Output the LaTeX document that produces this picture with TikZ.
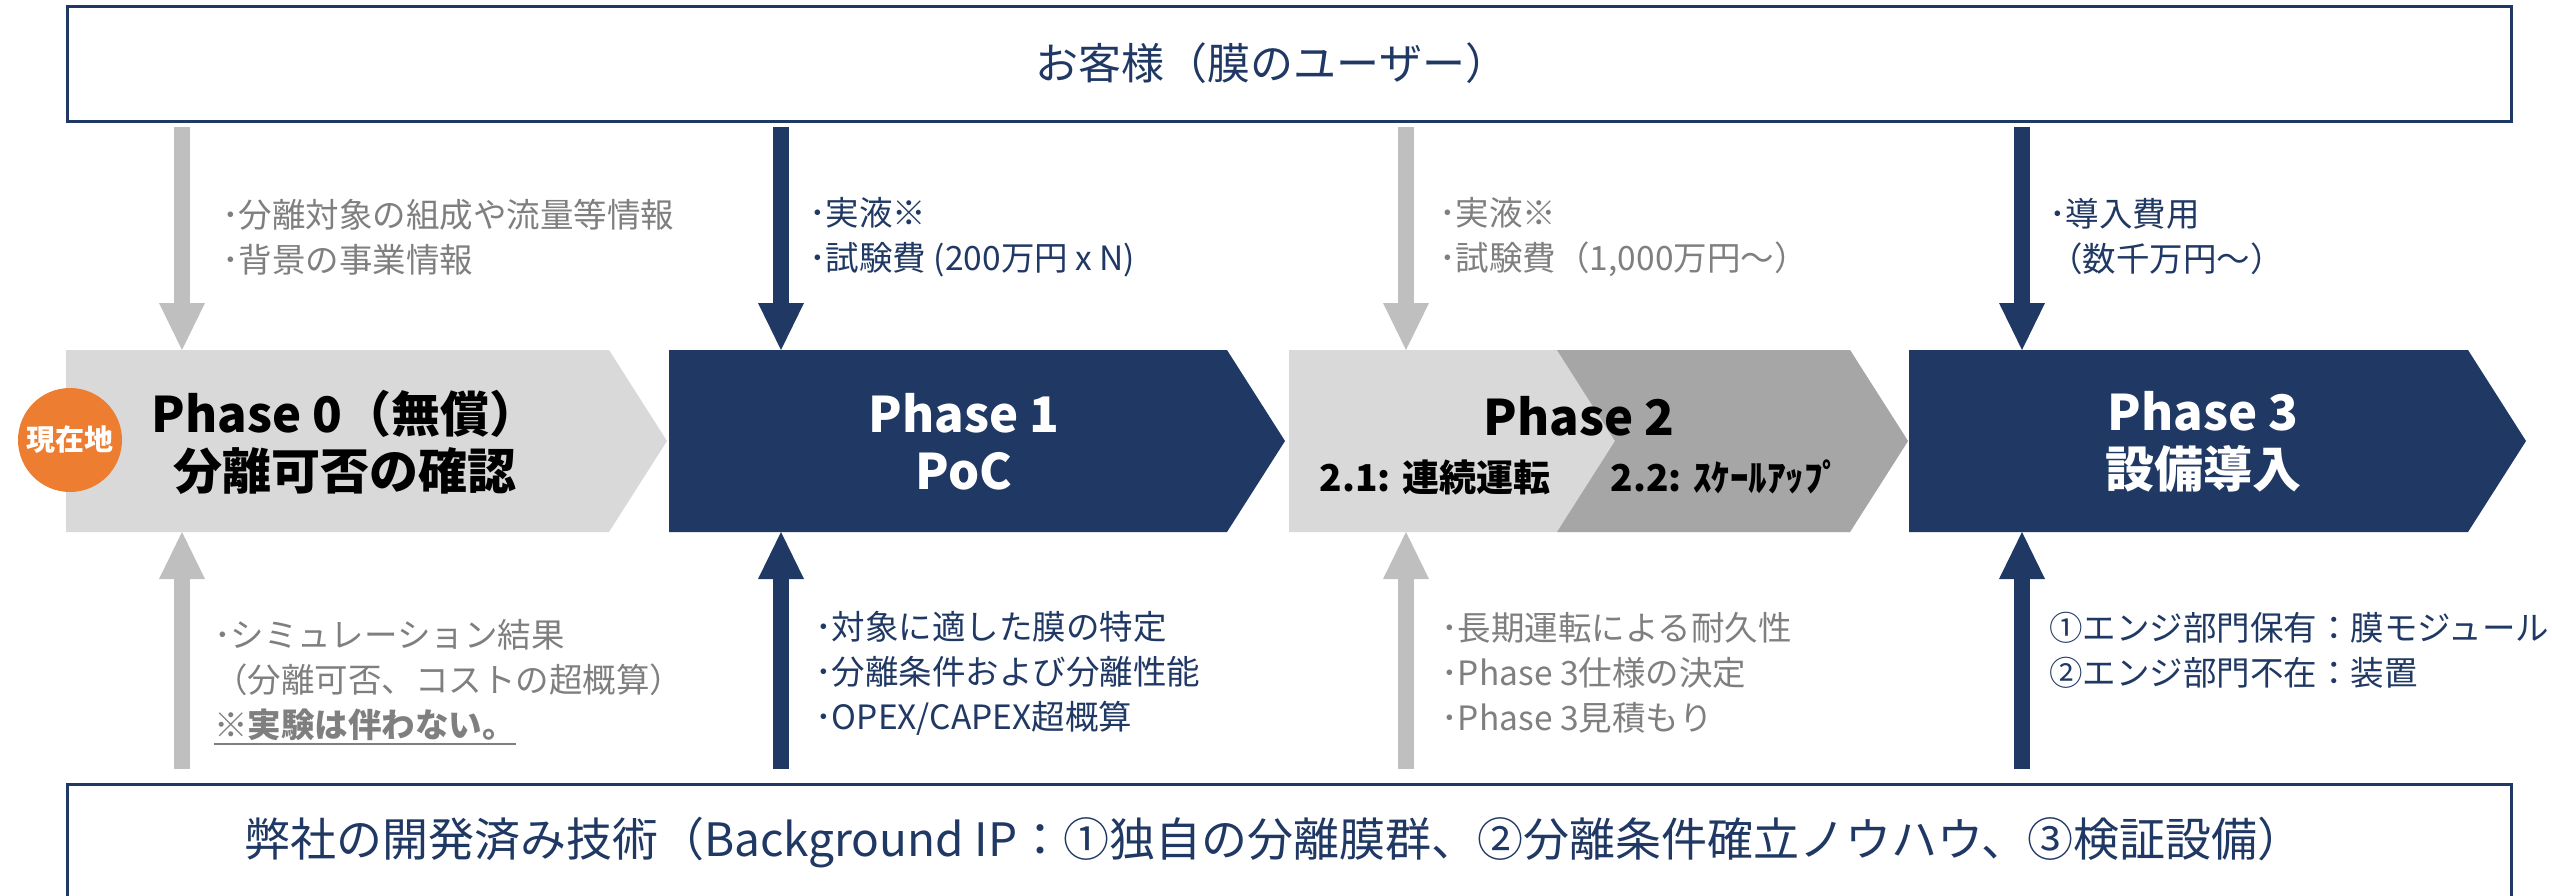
\documentclass[tikz,border=0pt]{standalone}
\usepackage{fontspec}
\setmainfont{Noto Sans CJK JP}
\usetikzlibrary{arrows.meta}
\definecolor{navy}{RGB}{32,56,100}
\definecolor{lightgr}{RGB}{217,217,217}
\definecolor{midgr}{RGB}{166,166,166}
\definecolor{arrowgr}{RGB}{191,191,191}
\definecolor{textgr}{RGB}{127,127,127}
\definecolor{here}{RGB}{237,125,49}
\tikzset{frame/.style={draw=navy,line width=3pt,fill=white,inner sep=0pt},
  flow/.style={line width=16pt,-{Triangle[width=46pt,length=47pt,line width=0pt]}},
  note/.style={anchor=west,inner sep=0pt,align=left,font=\fontsize{33.5}{45}\selectfont},
  title/.style={font=\bfseries\fontsize{49}{57}\selectfont,align=center,inner sep=0pt},
  sub/.style={font=\bfseries\fontsize{37}{37}\selectfont,inner sep=0pt}}
\newcommand{\phasebox}[3]{%
  %% chevron body from #1 to #2, then the tip
  \fill[#3] (#1,350) -- (#2,350) -- ++(58,91) -- ++(-58,91) -- (#1,532) -- cycle;}
\newcommand{\undl}[1]{\setbox0\hbox{#1}\rlap{\rule[-7pt]{\wd0}{2pt}}\box0}
\begin{document}
\begin{tikzpicture}[x=1pt,y=-1pt]
  \useasboundingbox (0,0) rectangle (2552,896);
  \clip (0,0) rectangle (2552,896);
  %% customer and own technology
  \node[frame,anchor=north west,minimum width=2444pt,minimum height=115pt] (cust) at (66,5) {};
  \node[text=navy,font=\fontsize{43}{43}\selectfont] (custtxt) at (1272,63) {お客様（膜のユーザー）};
  \node[frame,anchor=north west,minimum width=2444pt,minimum height=230pt] (ours) at (66,783) {};
  \node[text=navy,font=\fontsize{46}{46}\selectfont] (ip) at (1274,843)
       {弊社の開発済み技術（Background IP：①独自の分離膜群、②分離条件確立ノウハウ、③検証設備）};
  %% phases
  \phasebox{66}{609}{lightgr}
  \phasebox{669}{1227}{navy}
  \phasebox{1289}{1850}{lightgr}
  \fill[midgr] (1557,350) -- (1850,350) -- ++(58,91) -- ++(-58,91) -- (1557,532) -- ++(58,-91) -- cycle;
  \phasebox{1909}{2468}{navy}
  \path (66,350) coordinate (top) (66,532) coordinate (bot);
  \node[title] (ph0) at (345,442) {Phase 0（無償）\\分離可否の確認};
  \node[title,text=white] (ph1) at (964,442) {Phase 1\\PoC};
  \node[title] (ph2) at (1579,416) {Phase 2};
  \node[sub] (ph21) at (1435,477) {2.1: 連続運転};
  \node[sub] (ph22) at (1726,477) {2.2: ｽｹｰﾙｱｯﾌﾟ};
  \node[title,text=white] (ph3) at (2203,442) {Phase 3\\設備導入};
  \node[circle,fill=here,minimum size=104pt,inner sep=0pt,text=white,
        font=\bfseries\fontsize{29}{29}\selectfont] (now) at (70,440) {現在地};
  %% arrows
  \foreach \x/\c in {182/arrowgr,781/navy,1406/arrowgr,2022/navy}{
    \draw[flow,\c,shorten <=4pt] (\x,0 |- cust.south) -- (\x,0 |- top);
    \draw[flow,\c,shorten <=14pt] (\x,0 |- ours.north) -- (\x,0 |- bot);}
  %% inputs
  \node[note,text=textgr] (in0) at (222,237) {･分離対象の組成や流量等情報\\･背景の事業情報};
  \node[note,text=navy] (in1) at (809,237) {･実液※\\･試験費 (200万円 x N)};
  \node[note,text=textgr] (in2) at (1439,237) {･実液※\\･試験費（1,000万円～）};
  \node[note,text=navy] (in3) at (2049,237) {･導入費用\\（数千万円～）};
  %% outputs
  \node[note,text=textgr] (out0) at (214,682)
       {･シミュレーション結果\\（分離可否、コストの超概算）\\\undl{\bfseries ※実験は伴わない。}};
  \node[note,text=navy] (out1) at (815,673) {･対象に適した膜の特定\\･分離条件および分離性能\\･OPEX/CAPEX超概算};
  \node[note,text=textgr] (out2) at (1441,673) {･長期運転による耐久性\\･Phase 3仕様の決定\\･Phase 3見積もり};
  \node[note,text=navy] (out3) at (2049,650) {①エンジ部門保有：膜モジュール\\②エンジ部門不在：装置};
\end{tikzpicture}
\end{document}
